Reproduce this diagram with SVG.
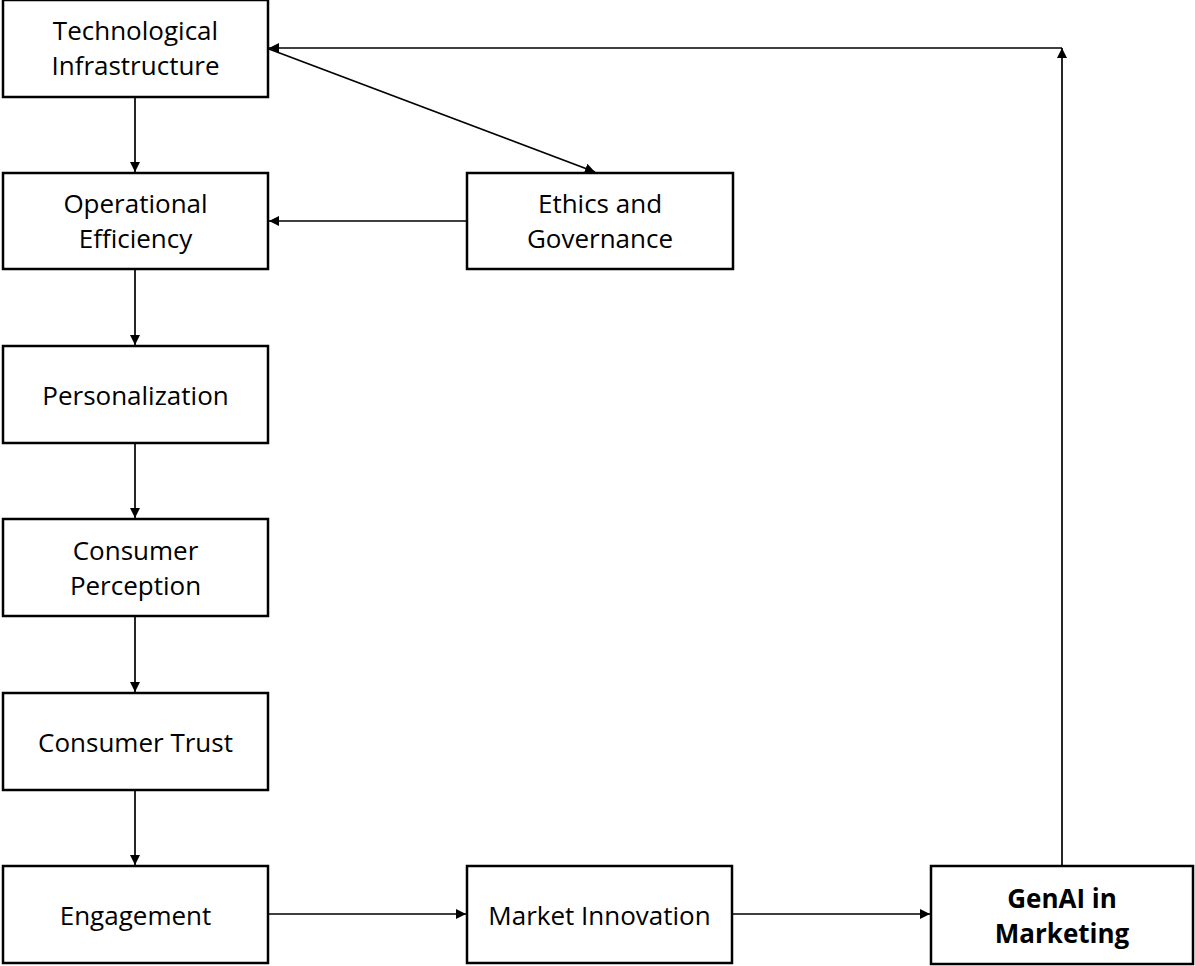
<svg xmlns="http://www.w3.org/2000/svg" width="1195" height="966" viewBox="0 0 1195 966">
  <style>
    .box { fill: #ffffff; stroke: #000000; stroke-width: 2.5; }
    .lbl { font-family: "Open Sans", "Liberation Sans", sans-serif; font-size: 26px; fill: #000000; text-anchor: middle; }
    .bold { font-weight: bold; }
    .conn { fill: none; stroke: #000000; stroke-width: 1.7; }
  </style>
  <defs>
    <marker id="arrow" viewBox="0 0 10 10" refX="10" refY="5" markerWidth="10" markerHeight="10" markerUnits="userSpaceOnUse" orient="auto">
      <path d="M0,0 L10,5 L0,10 Z" fill="#000000"/>
    </marker>
  </defs>
  <rect width="1195" height="966" fill="#ffffff"/>

  <g id="connectors">
    <line class="conn" x1="135" y1="97" x2="135" y2="172" marker-end="url(#arrow)"/>
    <line class="conn" x1="135" y1="269" x2="135" y2="345" marker-end="url(#arrow)"/>
    <line class="conn" x1="135" y1="443" x2="135" y2="518" marker-end="url(#arrow)"/>
    <line class="conn" x1="135" y1="616" x2="135" y2="692" marker-end="url(#arrow)"/>
    <line class="conn" x1="135" y1="790" x2="135" y2="865" marker-end="url(#arrow)"/>
    <line class="conn" x1="466" y1="221" x2="269" y2="221" marker-end="url(#arrow)"/>
    <line class="conn" x1="269" y1="49" x2="595" y2="172" marker-end="url(#arrow)"/>
    <line class="conn" x1="268" y1="914" x2="466" y2="914" marker-end="url(#arrow)"/>
    <line class="conn" x1="732" y1="914" x2="930" y2="914" marker-end="url(#arrow)"/>
    <line class="conn" x1="1062" y1="866" x2="1062" y2="48" marker-end="url(#arrow)"/>
    <line class="conn" x1="1062" y1="48" x2="269" y2="48" marker-end="url(#arrow)"/>
  </g>

  <g id="technological-infrastructure">
    <rect class="box" x="3" y="0" width="265" height="97"/>
    <text class="lbl" x="135.5" y="40">Technological</text>
    <text class="lbl" x="135.5" y="75">Infrastructure</text>
  </g>
  <g id="operational-efficiency">
    <rect class="box" x="3" y="173" width="265" height="96"/>
    <text class="lbl" x="135.5" y="213">Operational</text>
    <text class="lbl" x="135.5" y="248">Efficiency</text>
  </g>
  <g id="ethics-governance">
    <rect class="box" x="467" y="173" width="266" height="96"/>
    <text class="lbl" x="600" y="213">Ethics and</text>
    <text class="lbl" x="600" y="248">Governance</text>
  </g>
  <g id="personalization">
    <rect class="box" x="3" y="346" width="265" height="97"/>
    <text class="lbl" x="135.5" y="405">Personalization</text>
  </g>
  <g id="consumer-perception">
    <rect class="box" x="3" y="519" width="265" height="97"/>
    <text class="lbl" x="135.5" y="560">Consumer</text>
    <text class="lbl" x="135.5" y="595">Perception</text>
  </g>
  <g id="consumer-trust">
    <rect class="box" x="3" y="693" width="265" height="97"/>
    <text class="lbl" x="135.5" y="752">Consumer Trust</text>
  </g>
  <g id="engagement">
    <rect class="box" x="3" y="866" width="265" height="97"/>
    <text class="lbl" x="135.5" y="925">Engagement</text>
  </g>
  <g id="market-innovation">
    <rect class="box" x="467" y="866" width="265" height="97"/>
    <text class="lbl" x="599.5" y="925">Market Innovation</text>
  </g>
  <g id="genai-marketing">
    <rect class="box" x="931" y="866" width="262" height="98"/>
    <text class="lbl bold" x="1062" y="908">GenAI in</text>
    <text class="lbl bold" x="1062" y="943">Marketing</text>
  </g>
</svg>
